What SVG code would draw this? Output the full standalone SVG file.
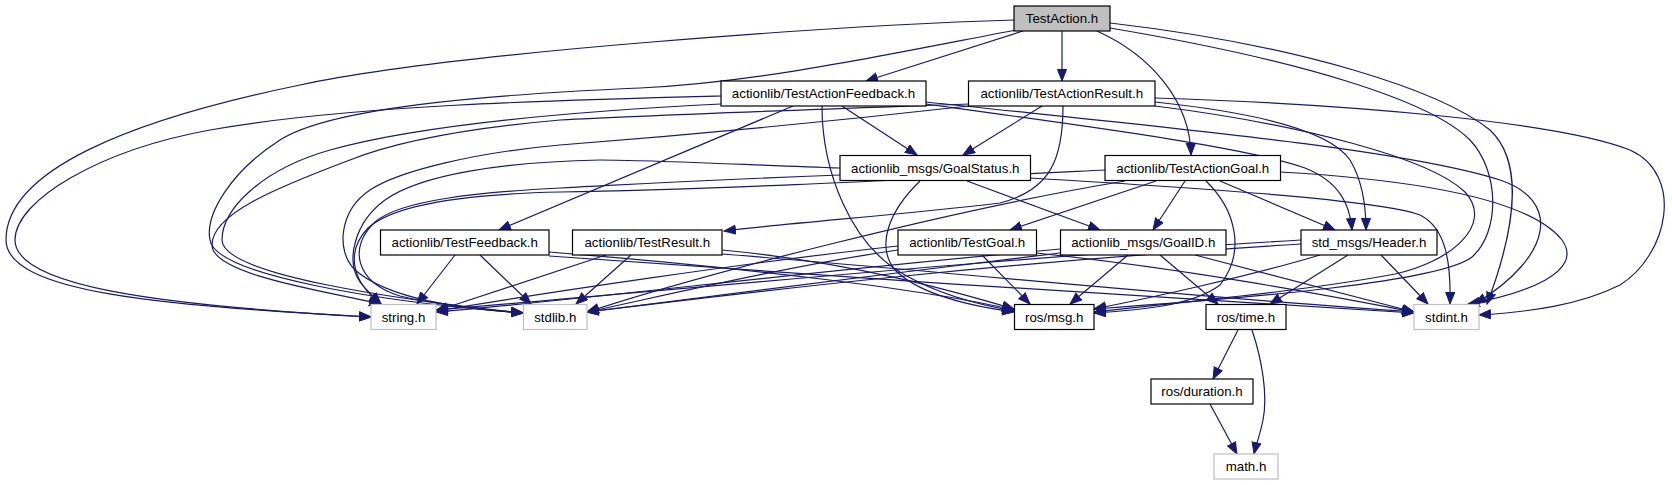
<svg xmlns="http://www.w3.org/2000/svg" width="1672" height="485" viewBox="0 0 1672 485">
<style>
.e{fill:none;stroke:#191970;stroke-width:1.2;marker-end:url(#ah)}
.n rect{fill:#fff;stroke:#000;stroke-width:1.2}
.g rect{fill:#fff;stroke:#bfbfbf;stroke-width:1.2}
.r rect{fill:#bfbfbf;stroke:#000;stroke-width:1.2}
text{font-family:"Liberation Sans",Arial,sans-serif;font-size:13.3px;text-anchor:middle;fill:#000}
</style>
<defs>
<marker id="ah" markerUnits="userSpaceOnUse" markerWidth="14" markerHeight="11" refX="12" refY="5" orient="auto">
<path d="M0.5,0.5 L12,5 L0.5,9.5 z" fill="#191970" stroke="#191970" stroke-width="1"/>
</marker>
</defs>
<rect width="1672" height="485" fill="#fff"/>
<g id="edges">
<path class="e" d="M1023,31 L866,81"/>
<path class="e" d="M1062,31 L1062,81"/>
<path class="e" d="M1097,31 C1150,55 1190,100 1191,155"/>
<path class="e" d="M1014,20 C850,25 450,52 300,85 C130,120 6,170 6,240 C6,292 160,306 371,317"/>
<path class="e" d="M1016,30 C880,56 760,82 640,88 C480,95 330,108 280,140 C230,172 205,215 210,240 C215,275 380,302 523,313"/>
<path class="e" d="M1110,28 C1300,60 1430,100 1470,140 C1500,172 1500,232 1472,257 C1440,282 1250,298 1094,309"/>
<path class="e" d="M1110,23 C1300,45 1440,90 1490,130 C1522,160 1518,222 1487,304"/>
<path class="e" d="M721,96 C560,100 350,105 210,130 C100,150 15,200 15,240 C15,285 150,305 371,317"/>
<path class="e" d="M721,104 C560,112 420,125 330,150 C260,170 222,210 222,240 C222,275 400,300 523,313"/>
<path class="e" d="M793,106 L499,230"/>
<path class="e" d="M842,106 L917,155"/>
<path class="e" d="M822,106 C822,170 850,245 905,275 C940,295 980,305 1014,311"/>
<path class="e" d="M926,104 C1100,128 1250,148 1305,168 C1340,182 1350,205 1352,230"/>
<path class="e" d="M926,102 C1150,126 1400,148 1500,180 C1560,200 1555,255 1475,304"/>
<path class="e" d="M1042,106 L963,155"/>
<path class="e" d="M1063,106 C1063,160 1050,190 1000,203 C900,215 800,222 724,231"/>
<path class="e" d="M1155,102 C1250,112 1330,130 1350,160 C1362,180 1366,205 1366,230"/>
<path class="e" d="M1155,98 C1350,104 1560,122 1630,150 C1685,175 1668,255 1620,285 C1580,305 1530,312 1479,315"/>
<path class="e" d="M1155,106 C1300,124 1430,158 1465,192 C1495,225 1450,262 1395,274 C1300,292 1180,302 1094,312"/>
<path class="e" d="M969,104 C800,110 650,115 560,120 C470,128 400,140 350,160 C270,190 212,215 212,245 C212,275 330,292 381,304"/>
<path class="e" d="M969,106 C800,125 650,138 560,145 C480,152 400,170 370,190 C340,210 335,250 355,270 C390,300 460,308 523,313"/>
<path class="e" d="M967,181 L1100,230"/>
<path class="e" d="M920,181 C890,210 875,245 895,270 C920,295 970,306 1014,312"/>
<path class="e" d="M1030,178 C1200,188 1380,200 1420,215 C1446,228 1451,262 1450,304"/>
<path class="e" d="M840,168 C750,165 650,160 600,160 C500,162 420,175 385,200 C355,222 345,260 360,282 C368,292 375,298 381,304"/>
<path class="e" d="M840,175 C700,180 620,185 560,188 C480,192 400,200 375,222 C348,247 355,282 400,296 C440,306 490,310 523,313"/>
<path class="e" d="M1185,181 L1153,230"/>
<path class="e" d="M1156,181 L1010,230"/>
<path class="e" d="M1220,181 L1335,230"/>
<path class="e" d="M1206,181 C1236,210 1246,252 1220,285 C1192,306 1140,310 1094,313"/>
<path class="e" d="M1280,172 C1420,180 1530,200 1562,240 C1585,272 1525,294 1468,304"/>
<path class="e" d="M1105,170 C900,180 700,190 560,192 C470,194 395,203 368,228 C345,252 352,282 381,304"/>
<path class="e" d="M1125,181 C950,210 700,275 587,312"/>
<path class="e" d="M455,255 L417,304"/>
<path class="e" d="M480,255 L531,304"/>
<path class="e" d="M549,252 C750,268 930,290 1014,310"/>
<path class="e" d="M549,256 C800,275 1200,300 1414,313"/>
<path class="e" d="M606,255 L436,311"/>
<path class="e" d="M631,255 L576,304"/>
<path class="e" d="M722,250 C850,262 950,290 1014,309"/>
<path class="e" d="M722,254 C950,272 1200,298 1414,312"/>
<path class="e" d="M982,255 L1030,304"/>
<path class="e" d="M1036,253 C1200,270 1350,300 1414,312"/>
<path class="e" d="M898,246 C750,262 550,292 436,311"/>
<path class="e" d="M898,250 C800,264 680,292 587,312"/>
<path class="e" d="M1128,255 L1070,304"/>
<path class="e" d="M1160,255 L1218,304"/>
<path class="e" d="M1195,255 L1414,312"/>
<path class="e" d="M1060,249 C800,272 600,298 436,312"/>
<path class="e" d="M1060,253 C900,272 700,298 587,312"/>
<path class="e" d="M1348,255 L1270,304"/>
<path class="e" d="M1381,255 L1428,304"/>
<path class="e" d="M1320,255 C1250,276 1150,298 1094,309"/>
<path class="e" d="M1301,240 C1000,258 700,288 436,310"/>
<path class="e" d="M1301,244 C1000,262 750,292 587,312"/>
<path class="e" d="M1238,330 L1213,379"/>
<path class="e" d="M1252,330 C1262,360 1268,395 1263,420 C1260,435 1256,445 1254,454"/>
<path class="e" d="M1210,404 L1237,454"/>
</g>
<g id="n_testaction" class="r"><rect x="1014" y="6" width="96" height="25"/><text x="1062" y="23">TestAction.h</text></g>
<g id="n_taf" class="n"><rect x="721" y="81" width="205" height="25"/><text x="823.5" y="98">actionlib/TestActionFeedback.h</text></g>
<g id="n_tar" class="n"><rect x="968.5" y="81" width="186.5" height="25"/><text x="1061.75" y="98">actionlib/TestActionResult.h</text></g>
<g id="n_goalstatus" class="n"><rect x="840" y="155.5" width="190.5" height="25"/><text x="935.25" y="172.5">actionlib_msgs/GoalStatus.h</text></g>
<g id="n_tag" class="n"><rect x="1105" y="155.5" width="175.5" height="25"/><text x="1192.75" y="172.5">actionlib/TestActionGoal.h</text></g>
<g id="n_tf" class="n"><rect x="380.5" y="230" width="168.5" height="25"/><text x="464.75" y="247">actionlib/TestFeedback.h</text></g>
<g id="n_tr" class="n"><rect x="572.5" y="230" width="149.5" height="25"/><text x="647.25" y="247">actionlib/TestResult.h</text></g>
<g id="n_tg" class="n"><rect x="898" y="230" width="138.5" height="25"/><text x="967.25" y="247">actionlib/TestGoal.h</text></g>
<g id="n_goalid" class="n"><rect x="1060.5" y="230" width="165.5" height="25"/><text x="1143.25" y="247">actionlib_msgs/GoalID.h</text></g>
<g id="n_header" class="n"><rect x="1301" y="230" width="136" height="25"/><text x="1369" y="247">std_msgs/Header.h</text></g>
<g id="n_string" class="g"><rect x="371" y="304.5" width="65" height="25"/><text x="403.5" y="321.5">string.h</text></g>
<g id="n_stdlib" class="g"><rect x="523.5" y="304.5" width="63.5" height="25"/><text x="555.25" y="321.5">stdlib.h</text></g>
<g id="n_msg" class="n"><rect x="1014.5" y="304.5" width="79.5" height="25"/><text x="1054.25" y="321.5">ros/msg.h</text></g>
<g id="n_time" class="n"><rect x="1206" y="304.5" width="80" height="25"/><text x="1246" y="321.5">ros/time.h</text></g>
<g id="n_stdint" class="g"><rect x="1414" y="304.5" width="65" height="25"/><text x="1446.5" y="321.5">stdint.h</text></g>
<g id="n_duration" class="n"><rect x="1151" y="379" width="102" height="25"/><text x="1202" y="396">ros/duration.h</text></g>
<g id="n_math" class="g"><rect x="1214" y="454" width="64" height="25"/><text x="1246" y="471">math.h</text></g>
</svg>
